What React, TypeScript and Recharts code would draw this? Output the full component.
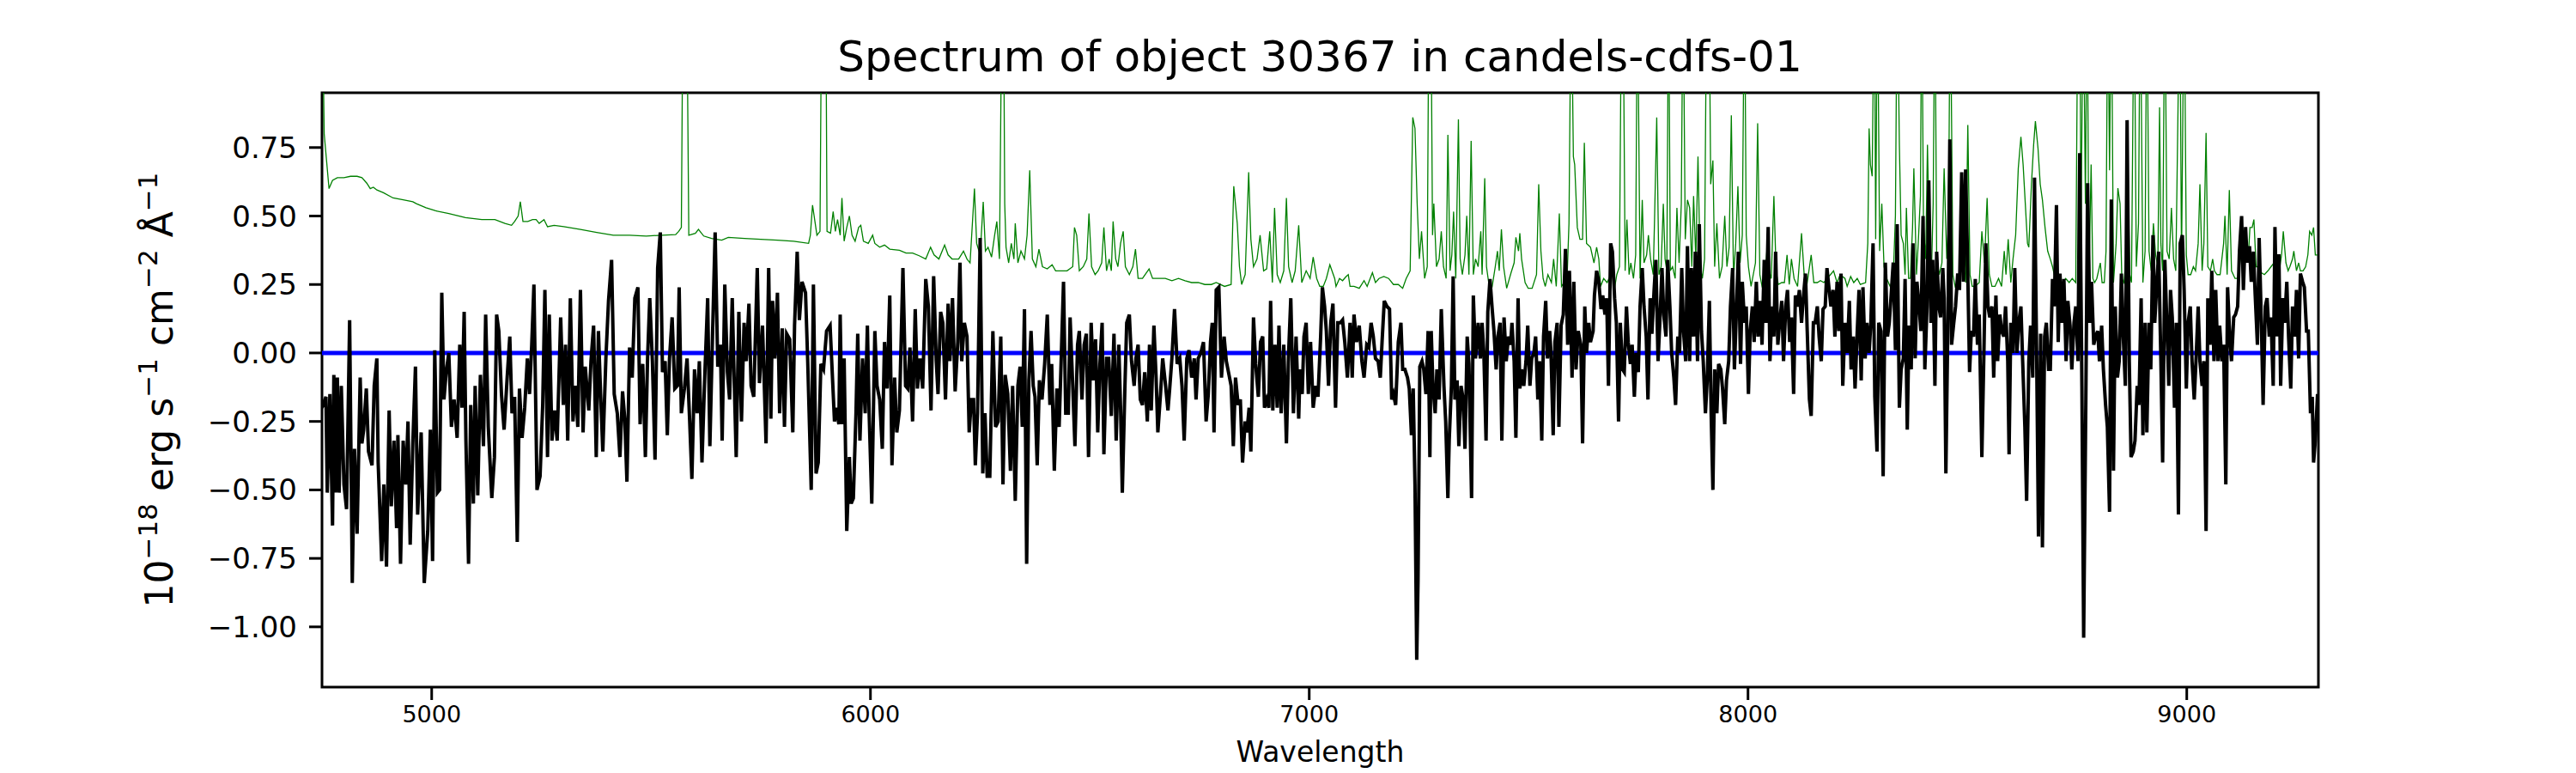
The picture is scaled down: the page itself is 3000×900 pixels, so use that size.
import { LineChart, Line, XAxis, YAxis, ReferenceArea } from "recharts";

// wavelength (Angstrom), flux in 1e-18 erg/s/cm2/A
const FLUX_BLUE_END: number[][] = [
  [4750,-0.20],[4759,-0.16],[4762,-0.51],[4768,-0.15],[4774,-0.63],[4777,-0.08],[4781,-0.51],[4785,-0.09],[4789,-0.51],[4794,-0.12],
  [4800,-0.48],[4806,-0.57],[4813,0.12],[4819,-0.84],[4824,-0.35],[4830,-0.66],[4837,-0.09],[4841,-0.33],[4845,-0.28],[4851,-0.13],
  [4856,-0.36],[4864,-0.41],[4869,-0.12],[4875,-0.02],[4878,-0.40],[4886,-0.76],[4891,-0.48],[4897,-0.78],[4903,-0.21],[4908,-0.56],
  [4914,-0.32],[4920,-0.64],[4923,-0.30],[4929,-0.77],[4935,-0.32],[4941,-0.48],[4946,-0.25],[4951,-0.70],[4957,-0.33],[4963,-0.05],
  [4968,-0.59],[4976,-0.29],[4983,-0.84],[4991,-0.65],[4997,-0.28],[5002,-0.76],[5007,0.01],[5013,-0.51],[5018,-0.50],[5023,0.22],
  [5028,-0.17],[5033,-0.07],[5039,0.0],[5045,-0.27],[5051,-0.17],[5058,-0.31],[5064,0.03],[5069,-0.20],[5074,0.15],[5078,-0.32],
  [5084,-0.77],[5089,-0.19],[5095,-0.55],[5099,-0.12],[5105,-0.52],[5111,-0.08],[5118,-0.34],[5123,0.14],[5129,-0.27],[5137,-0.53],
  [5143,-0.38],[5148,0.14],[5153,0.08],[5159,-0.15],[5165,-0.28],[5172,-0.09],[5178,0.06],[5183,-0.22],[5189,-0.16],[5195,-0.69],
  [5200,-0.13],[5206,-0.31],[5212,-0.20],[5218,-0.02],[5223,-0.15],[5228,0.03],[5233,0.25],[5240,-0.50],[5247,-0.45],[5253,-0.19],
  [5258,0.23],[5264,-0.38],[5268,0.14],[5274,-0.32],[5280,-0.21],[5286,-0.32],[5294,0.13],[5300,-0.19],[5305,0.03],[5310,-0.32],
  [5316,0.20],[5322,-0.25],[5328,-0.12],[5333,-0.27],[5339,0.23],[5345,-0.29],[5350,-0.05],[5358,-0.21],[5363,-0.03],[5369,0.10],
  [5375,-0.38],[5380,0.08],[5385,-0.15],[5390,-0.36],[5397,-0.02],[5403,0.19],[5410,0.34],[5416,-0.15],[5423,-0.22],[5429,-0.38],
  [5435,-0.14],[5440,-0.24],[5445,-0.47],[5451,0.02],[5457,-0.09],[5463,0.20],[5470,0.24],[5475,-0.26],[5481,-0.04],[5487,-0.38],
  [5492,-0.02],[5497,0.20],[5503,-0.03],[5509,-0.39],[5515,0.31],[5521,0.44],[5526,-0.07],[5532,-0.03],[5537,-0.30],[5542,-0.02],
  [5548,0.13],[5554,-0.13],[5560,-0.12],[5564,0.24],[5569,-0.22],[5576,-0.13],[5582,-0.02],[5588,-0.25],[5593,-0.46],[5599,-0.06],
  [5605,-0.22],[5610,-0.03],[5616,-0.40],[5622,-0.10],[5629,0.20],[5634,-0.34],[5640,0.06],[5646,0.44],[5652,-0.05],[5658,0.03],
  [5662,-0.32],[5668,0.25],[5674,-0.07],[5679,-0.17],[5685,0.20],[5689,-0.07],[5694,-0.38],[5700,0.15],[5706,-0.25],[5712,0.11],
  [5717,-0.03],[5723,0.18],[5728,-0.12],[5734,-0.16],[5742,0.31],[5747,-0.11],[5754,0.10],[5762,-0.33],[5768,0.31],[5773,-0.24],
  [5777,0.19],[5782,-0.02],[5788,0.22],[5793,-0.22],[5799,0.09],[5804,-0.27],[5809,0.07],[5816,0.05],[5823,-0.29],[5827,0.10],
  [5833,0.37],[5838,0.12],[5844,0.26],[5852,0.22],[5857,-0.03],[5865,-0.50],[5870,0.25],[5876,-0.44],[5881,-0.40],[5887,-0.04],
  [5893,-0.06],[5900,0.08],[5908,0.10],
];

const FLUX_GREEN_RED: number[][] = [
  [5918,-0.25],[5922,-0.20],[5928,-0.26],[5931,0.14],[5935,-0.26],[5940,-0.02],[5946,-0.65],[5952,-0.38],[5956,-0.55],[5961,-0.53],
  [5967,-0.22],[5971,0.07],[5976,-0.32],[5982,-0.02],[5988,-0.22],[5993,0.10],[5997,-0.22],[6003,-0.55],[6010,0.08],[6015,-0.12],
  [6021,-0.17],[6027,-0.35],[6032,0.04],[6038,-0.13],[6044,0.21],[6049,-0.41],[6055,-0.09],[6060,-0.29],[6066,-0.21],[6074,0.31],
  [6080,-0.12],[6085,-0.13],[6090,0.02],[6096,-0.25],[6102,0.16],[6107,-0.13],[6113,-0.02],[6119,-0.13],[6126,0.27],[6132,0.17],
  [6138,-0.21],[6144,0.28],[6150,-0.03],[6154,-0.15],[6160,0.15],[6165,0.11],[6171,-0.17],[6177,0.18],[6181,-0.03],[6187,0.20],
  [6193,-0.14],[6199,0.04],[6204,0.33],[6208,-0.03],[6214,0.11],[6220,0.06],[6225,-0.29],[6230,-0.17],[6235,-0.17],[6239,-0.41],
  [6244,-0.22],[6250,0.42],[6256,-0.44],[6261,-0.22],[6266,-0.45],[6272,-0.45],[6279,0.08],[6285,-0.27],[6291,-0.25],[6297,0.06],
  [6302,-0.48],[6307,-0.08],[6313,-0.15],[6319,-0.43],[6324,-0.12],[6330,-0.54],[6336,-0.12],[6341,-0.05],[6346,-0.27],[6351,0.16],
  [6356,-0.77],[6361,-0.10],[6366,0.08],[6371,-0.12],[6375,-0.16],[6380,-0.41],[6385,-0.10],[6391,-0.17],[6397,-0.04],[6403,0.14],
  [6409,-0.19],[6413,-0.04],[6419,-0.43],[6425,-0.13],[6430,-0.27],[6434,-0.06],[6440,0.26],[6445,-0.22],[6451,-0.22],[6455,0.13],
  [6461,-0.12],[6466,-0.34],[6472,0.03],[6476,0.08],[6482,-0.17],[6487,0.03],[6492,0.07],[6497,-0.38],[6503,0.11],[6508,-0.10],
  [6513,0.05],[6518,-0.29],[6523,-0.04],[6528,0.11],[6532,-0.37],[6538,-0.02],[6543,-0.02],[6549,-0.23],[6555,0.07],[6560,-0.32],
  [6566,0.03],[6570,-0.20],[6574,-0.51],[6580,-0.12],[6584,0.11],[6590,0.14],[6595,-0.03],[6601,-0.12],[6605,-0.02],[6610,0.03],
  [6615,-0.17],[6620,-0.19],[6625,-0.07],[6631,-0.25],[6636,0.03],[6640,-0.21],[6646,0.10],[6651,-0.09],[6655,-0.29],[6661,-0.15],
  [6666,-0.02],[6672,-0.11],[6678,-0.21],[6682,-0.13],[6687,-0.02],[6693,0.16],[6699,-0.04],[6705,-0.02],[6710,-0.12],[6715,-0.32],
  [6721,-0.02],[6726,0.01],[6732,-0.09],[6738,-0.02],[6742,-0.17],[6747,-0.02],[6753,0.00],[6759,0.04],[6765,-0.25],[6770,-0.15],
  [6775,0.04],[6779,0.11],[6783,-0.29],[6788,0.23],[6794,0.24],[6800,-0.09],[6806,0.06],[6811,-0.03],[6816,-0.07],[6822,-0.12],
  [6827,-0.34],[6832,-0.09],[6838,-0.19],[6843,-0.17],[6848,-0.40],[6854,-0.25],[6858,-0.29],[6863,-0.20],[6867,-0.36],[6873,0.13],
  [6878,-0.04],[6884,-0.16],[6889,0.04],[6894,0.06],[6898,-0.20],[6903,-0.17],[6908,-0.20],[6912,0.19],[6917,-0.21],[6922,0.03],
  [6927,-0.20],[6931,0.10],[6936,-0.22],[6942,0.03],[6948,-0.33],[6953,0.0],[6958,0.20],[6964,-0.22],[6970,0.06],[6976,-0.24],
  [6979,-0.06],[6984,-0.15],[6988,0.06],[6993,0.11],[6998,-0.15],[7003,0.04],[7009,-0.20],[7015,-0.12],[7020,-0.16],[7026,0.06],
  [7030,0.24],[7035,0.17],[7039,0.08],[7044,-0.12],[7049,0.11],[7054,0.18],[7060,-0.20],[7065,0.11],
];

const FLUX_NEAR_IR: number[][] = [
  [7071,0.11],[7076,0.12],[7081,0.04],[7087,-0.09],[7093,0.11],[7098,-0.09],[7102,0.14],[7108,0.04],[7114,0.10],[7120,-0.03],
  [7125,-0.09],[7131,0.03],[7136,0.02],[7141,0.11],[7146,0.06],[7151,-0.02],[7157,-0.03],[7162,-0.09],[7166,0.04],[7171,0.19],
  [7177,0.17],[7183,0.16],[7188,-0.17],[7192,-0.15],[7197,-0.19],[7203,0.04],[7209,0.11],[7213,-0.06],[7218,-0.06],[7224,-0.09],
  [7228,-0.13],[7233,-0.30],[7237,-0.13],[7241,-0.48],[7245,-1.12],[7248,-0.83],[7252,-0.05],[7257,-0.03],[7261,-0.06],[7266,-0.15],
  [7271,0.08],[7275,-0.38],[7278,0.08],[7282,-0.12],[7287,-0.22],[7291,-0.06],[7296,-0.17],[7301,0.16],[7307,-0.12],[7311,-0.25],
  [7316,-0.53],[7319,-0.32],[7324,-0.12],[7328,0.28],[7332,-0.17],[7337,-0.10],[7341,-0.34],[7346,-0.12],[7351,-0.17],[7355,-0.35],
  [7360,0.06],[7364,-0.04],[7370,-0.53],[7374,0.21],[7379,-0.02],[7385,0.11],[7390,-0.02],[7394,0.11],[7398,0.0],[7403,-0.32],
  [7407,0.15],[7412,0.27],[7417,0.16],[7421,0.08],[7426,-0.06],[7430,0.06],[7435,0.11],[7439,-0.32],[7444,0.13],[7449,-0.03],
  [7454,0.06],[7459,0.03],[7462,0.11],[7467,-0.03],[7471,-0.31],[7476,0.20],[7480,-0.13],[7484,-0.06],[7489,-0.12],[7494,-0.03],
  [7498,0.10],[7503,-0.12],[7507,-0.02],[7512,0.0],[7516,0.06],[7521,-0.17],[7525,-0.03],[7530,-0.32],[7534,0.06],[7539,0.19],
  [7543,-0.02],[7548,0.08],[7551,0.0],[7556,-0.30],[7560,0.04],[7565,0.11],[7569,-0.27],[7574,0.10],[7579,0.14],[7584,0.38],
  [7589,0.03],[7593,0.30],[7599,-0.09],[7603,0.26],[7608,-0.06],[7613,0.08],[7619,0.03],[7623,-0.33],[7628,0.17],[7632,0.0],
  [7637,0.11],[7641,0.04],[7647,0.08],[7650,0.21],[7655,0.30],[7660,0.26],[7665,0.16],[7669,0.21],[7674,0.14],[7678,0.20],
  [7682,-0.12],[7687,0.40],[7691,0.37],[7696,0.20],[7700,0.11],[7705,-0.25],[7709,0.11],[7714,-0.06],[7718,-0.07],[7723,0.17],
  [7727,0.04],[7732,-0.04],[7736,0.03],[7741,-0.16],[7745,0.0],[7750,-0.07],[7754,0.17],[7759,0.31],[7763,0.17],[7768,0.06],
  [7772,-0.17],[7777,0.20],[7781,0.07],[7786,0.23],[7790,0.34],[7795,-0.03],[7799,0.11],[7804,0.31],[7808,0.14],[7813,0.06],
  [7817,0.34],[7822,0.17],[7826,0.0],[7831,-0.09],[7835,-0.19],[7840,0.06],[7844,0.0],[7849,0.31],[7853,0.08],[7858,-0.03],
  [7862,0.39],[7867,-0.03],[7871,0.31],[7876,0.06],[7880,0.37],[7885,-0.03],[7889,0.47],[7894,0.08],[7898,-0.03],[7903,-0.22],
  [7907,-0.10],[7912,0.19],[7916,-0.22],[7920,-0.50],[7924,-0.06],[7929,-0.22],[7933,-0.04],[7938,-0.06],[7942,-0.13],[7947,-0.26],
  [7951,-0.10],[7956,-0.03],[7960,0.17],[7965,0.31],[7969,-0.06],[7974,0.17],[7978,0.37],[7983,-0.04],[7987,0.26],[7992,0.11],
  [7996,0.17],[8001,-0.15],[8005,0.08],[8010,0.17],[8014,0.04],[8019,0.26],[8023,0.06],[8028,0.19],[8032,0.03],[8037,0.34],
  [8041,0.11],[8046,0.46],[8050,-0.03],[8055,0.17],[8059,0.06],[8063,0.37],[8068,0.03],[8072,0.11],[8077,0.19],[8081,-0.03],
  [8086,0.17],[8090,0.23],[8095,0.04],[8099,0.13],[8104,-0.15],[8108,0.21],[8113,0.17],[8117,0.23],[8122,0.11],[8126,0.20],
  [8131,0.29],[8135,0.08],[8140,-0.17],[8144,-0.23],[8149,0.11],[8153,0.11],[8158,0.17],[8162,0.06],[8167,-0.03],[8171,0.16],
  [8176,0.17],[8180,0.31],[8185,0.23],[8189,0.17],[8194,0.23],[8198,0.06],[8203,0.26],[8207,0.08],[8212,0.29],[8216,-0.12],
  [8221,0.11],
];

const FLUX_RED_END: number[][] = [
  [8226,0.0],[8231,0.19],[8235,-0.06],[8240,0.06],[8244,-0.13],[8249,0.08],[8253,0.23],[8258,-0.10],[8262,0.24],[8267,-0.02],
  [8271,0.11],[8276,0.0],[8280,0.11],[8285,0.40],[8289,-0.16],[8294,-0.36],[8298,0.11],[8303,0.08],[8308,-0.45],[8313,0.33],
  [8318,0.06],[8322,0.11],[8327,0.23],[8331,0.33],[8336,0.01],[8340,0.47],[8345,-0.20],[8349,-0.06],[8354,-0.02],[8358,0.27],
  [8363,-0.28],[8367,0.10],[8372,-0.06],[8376,0.40],[8381,-0.02],[8385,0.26],[8390,0.17],[8394,0.08],[8399,0.50],[8403,-0.06],
  [8408,0.17],[8412,0.63],[8417,0.11],[8421,0.34],[8426,-0.12],[8430,0.37],[8435,0.17],[8439,0.13],[8444,0.31],[8447,0.20],
  [8451,-0.44],[8456,0.17],[8460,0.78],[8464,0.03],[8469,0.11],[8473,0.17],[8478,0.29],[8482,0.23],[8487,0.66],[8491,0.26],
  [8496,0.67],[8500,0.37],[8505,-0.07],[8509,0.08],[8514,0.06],[8518,0.27],[8523,0.03],[8527,0.14],[8533,-0.38],[8538,0.03],
  [8542,0.40],[8547,0.17],[8551,0.13],[8556,0.17],[8560,-0.09],[8565,0.21],[8569,-0.03],[8574,0.14],[8578,0.08],[8583,0.06],
  [8587,0.17],[8592,-0.03],[8595,-0.37],[8599,0.11],[8604,0.0],[8608,0.31],[8613,0.0],[8617,0.11],[8622,0.17],[8626,-0.03],
  [8631,-0.27],[8635,-0.54],[8640,-0.03],[8644,0.10],[8649,-0.09],[8653,0.64],[8658,-0.03],[8662,-0.67],[8667,0.07],[8671,-0.71],
  [8676,0.06],[8680,0.11],[8685,-0.06],[8689,-0.06],[8694,0.27],[8698,0.17],[8703,0.54],[8707,0.04],[8711,0.29],[8716,0.11],
  [8720,0.27],[8725,-0.03],[8729,0.19],[8734,0.10],[8738,-0.06],[8743,0.11],[8747,0.17],[8752,-0.03],[8756,0.73],[8761,-0.12],
  [8765,-1.04],[8770,-0.17],[8774,0.62],[8779,0.11],[8783,0.26],[8788,0.03],[8792,0.06],[8797,0.08],[8801,-0.03],[8806,0.10],
  [8810,-0.06],[8815,-0.19],[8819,-0.27],[8824,-0.58],[8828,0.56],[8833,-0.43],[8837,0.17],[8842,-0.09],[8846,-0.03],[8851,0.29],
  [8855,0.07],[8860,-0.12],[8864,0.85],[8869,-0.03],[8873,-0.38],[8878,-0.36],[8882,-0.32],[8887,-0.12],[8891,-0.19],[8896,0.20],
  [8900,-0.30],[8905,0.11],[8909,-0.29],[8914,0.11],[8918,-0.06],[8923,0.43],[8927,0.11],[8932,0.26],[8936,0.37],[8941,-0.03],
  [8945,-0.40],[8950,0.34],[8954,0.14],[8959,-0.12],[8963,0.23],[8967,0.13],[8972,-0.20],[8976,0.11],[8981,-0.59],[8985,0.40],
  [8990,0.43],[8994,0.23],[8999,-0.13],[9003,0.11],[9008,0.17],[9012,-0.03],[9017,-0.17],[9021,-0.03],[9026,0.17],[9030,-0.03],
  [9035,-0.12],[9039,-0.03],[9044,-0.65],[9048,0.20],[9053,0.03],[9057,0.30],[9062,-0.03],[9066,0.23],[9071,-0.03],[9075,0.10],
  [9080,-0.03],[9084,0.03],[9089,-0.48],[9093,0.24],[9098,0.06],[9102,-0.03],[9107,0.13],[9111,0.14],[9116,0.17],[9120,0.37],
  [9125,0.50],[9129,0.23],[9134,0.46],[9138,0.33],[9143,0.39],[9147,0.26],[9152,0.37],[9156,0.21],[9161,0.03],[9165,0.42],
  [9170,0.11],[9174,-0.19],[9179,0.17],[9183,0.20],[9188,0.06],[9192,0.13],[9197,-0.12],[9201,0.46],[9206,0.06],[9210,0.36],
  [9214,-0.12],[9219,0.20],[9223,0.11],[9228,0.26],[9232,0.06],[9237,-0.13],[9241,0.17],[9246,0.06],[9250,0.23],[9255,-0.02],
  [9259,0.29],[9264,0.26],[9268,0.24],[9273,0.08],[9277,0.08],[9282,-0.22],[9286,-0.16],[9289,-0.40],[9293,-0.32],[9298,-0.15],
];

// error / sky spectrum; 1.4 marks sky lines running off the top of the axes
const ERR_BLUE_END: number[][] = [
  [4750,1.4],[4755,0.80],[4766,0.60],[4774,0.63],[4785,0.64],[4800,0.64],[4815,0.645],[4830,0.645],[4841,0.64],[4852,0.62],
  [4860,0.60],[4867,0.605],[4875,0.595],[4890,0.585],[4912,0.566],[4935,0.559],[4957,0.552],[4965,0.545],[4987,0.53],[5009,0.519],
  [5039,0.509],[5077,0.494],[5114,0.487],[5144,0.487],[5167,0.473],[5182,0.466],[5189,0.48],[5197,0.50],[5202,0.552],[5208,0.48],
  [5219,0.48],[5230,0.487],[5238,0.487],[5245,0.473],[5256,0.487],[5264,0.461],[5279,0.466],[5301,0.461],[5339,0.451],[5376,0.44],
  [5414,0.43],[5451,0.43],[5489,0.427],[5526,0.43],[5556,0.432],[5563,0.444],[5569,0.458],[5573,1.4],[5581,1.4],[5586,0.43],
  [5601,0.437],[5608,0.451],[5620,0.427],[5638,0.418],[5661,0.412],[5676,0.422],[5713,0.418],[5750,0.415],[5788,0.412],[5825,0.408],
  [5859,0.40],[5863,0.43],[5868,0.54],[5878,0.43],[5885,0.444],[5889,1.4],[5896,1.4],
];

const ERR_GREEN_RED: number[][] = [
  [5898,1.4],[5901,0.444],[5909,0.437],[5915,0.516],[5920,0.444],[5925,0.487],[5931,0.43],[5935,0.566],[5940,0.408],[5946,0.458],
  [5952,0.50],[5958,0.43],[5965,0.408],[5973,0.458],[5978,0.466],[5984,0.408],[5995,0.40],[6005,0.43],[6010,0.40],[6021,0.386],
  [6032,0.394],[6044,0.379],[6066,0.375],[6081,0.365],[6096,0.365],[6111,0.355],[6126,0.343],[6137,0.386],[6145,0.358],[6156,0.343],
  [6169,0.394],[6177,0.358],[6186,0.343],[6201,0.343],[6212,0.372],[6220,0.343],[6227,0.329],[6237,0.60],[6242,0.40],[6250,0.358],
  [6257,0.552],[6262,0.372],[6268,0.386],[6276,0.35],[6283,0.43],[6288,0.48],[6294,0.343],[6300,1.4],[6303,1.4],[6306,0.545],
  [6309,0.386],[6315,0.329],[6321,0.40],[6327,0.343],[6330,0.473],[6336,0.329],[6343,0.372],[6351,0.343],[6357,0.43],[6363,0.667],
  [6369,0.343],[6377,0.315],[6384,0.379],[6392,0.315],[6403,0.307],[6414,0.322],[6422,0.30],[6448,0.30],[6461,0.315],[6465,0.458],
  [6470,0.43],[6476,0.30],[6485,0.315],[6493,0.343],[6498,0.509],[6504,0.315],[6512,0.286],[6519,0.30],[6527,0.329],[6532,0.458],
  [6538,0.30],[6544,0.343],[6549,0.30],[6553,0.48],[6559,0.343],[6564,0.315],[6570,0.40],[6576,0.444],[6581,0.315],[6590,0.286],
  [6598,0.315],[6604,0.379],[6610,0.272],[6620,0.272],[6635,0.307],[6643,0.272],[6658,0.272],[6672,0.272],[6687,0.264],[6702,0.272],
  [6717,0.264],[6732,0.257],[6747,0.257],[6762,0.25],[6777,0.25],[6788,0.257],[6807,0.243],[6822,0.25],[6828,0.609],[6836,0.473],
  [6841,0.315],[6846,0.25],[6854,0.286],[6862,0.66],[6867,0.415],[6873,0.315],[6881,0.343],[6888,0.43],[6896,0.30],[6903,0.307],
  [6910,0.444],[6916,0.257],[6921,0.53],[6927,0.286],[6934,0.257],[6942,0.30],[6948,0.566],[6953,0.315],[6961,0.257],[6968,0.30],
  [6976,0.466],[6983,0.257],[6993,0.30],[7002,0.272],[7009,0.35],[7017,0.272],[7024,0.243],[7032,0.243],[7039,0.272],[7047,0.322],
  [7058,0.272],
];

const ERR_NEAR_IR: number[][] = [
  [7061,0.243],[7069,0.272],[7076,0.264],[7084,0.279],[7089,0.286],[7093,0.243],[7102,0.243],[7114,0.236],[7125,0.264],[7132,0.243],
  [7144,0.293],[7151,0.257],[7159,0.272],[7170,0.279],[7181,0.272],[7192,0.25],[7203,0.25],[7213,0.236],[7221,0.272],[7230,0.30],
  [7236,0.86],[7241,0.82],[7246,0.545],[7251,0.343],[7256,0.444],[7263,0.272],[7269,0.315],[7273,1.4],[7277,1.4],[7281,0.43],
  [7284,0.545],[7290,0.315],[7296,0.343],[7301,0.444],[7306,0.315],[7312,0.272],[7316,0.796],[7321,0.30],[7325,0.358],[7329,0.516],
  [7334,0.272],[7340,0.853],[7344,0.343],[7349,0.286],[7355,0.358],[7359,0.501],[7364,0.286],[7369,0.774],[7374,0.286],[7379,0.343],
  [7385,0.315],[7391,0.444],[7394,0.286],[7400,0.638],[7404,0.315],[7409,0.257],[7417,0.243],[7424,0.315],[7429,0.372],[7433,0.30],
  [7438,0.451],[7443,0.315],[7450,0.236],[7460,0.293],[7467,0.329],[7471,0.422],[7477,0.372],[7480,0.437],[7484,0.343],[7492,0.257],
  [7499,0.236],[7508,0.236],[7518,0.286],[7523,0.616],[7528,0.372],[7533,0.272],[7538,0.243],[7544,0.286],[7552,0.257],[7557,0.343],
  [7563,0.243],[7570,0.509],[7575,0.243],[7581,0.257],[7587,0.243],[7592,0.473],[7597,1.4],[7602,0.717],[7605,0.688],[7611,0.458],
  [7617,0.415],[7623,0.415],[7627,0.767],[7632,0.40],[7641,0.386],[7649,0.329],[7655,0.386],[7660,0.343],[7664,0.243],[7671,0.272],
  [7679,0.257],[7685,0.279],[7690,0.329],[7695,0.228],[7701,0.286],[7707,0.315],[7712,1.4],[7715,1.4],[7720,0.30],[7724,0.487],
  [7729,0.286],[7733,0.329],[7739,0.272],[7744,0.358],[7748,1.4],[7754,0.272],[7759,0.559],[7763,0.329],[7769,0.358],[7773,0.43],
  [7778,0.343],[7784,0.286],[7787,0.487],[7792,0.86],[7797,0.286],[7802,0.315],[7807,0.545],[7811,0.343],[7815,0.30],[7819,1.4],
  [7823,0.30],[7828,0.315],[7834,0.272],[7838,0.53],[7843,0.329],[7848,0.545],[7852,1.4],[7857,0.415],[7862,0.559],[7867,0.53],
  [7872,0.315],[7876,0.573],[7881,0.343],[7886,0.717],[7891,0.315],[7896,0.272],[7901,0.343],[7906,1.4],[7911,1.4],[7915,0.616],
  [7920,0.703],[7924,0.315],[7929,0.473],[7935,0.272],[7941,0.315],[7947,0.501],[7952,0.315],[7957,0.386],[7962,0.868],[7967,0.272],
  [7972,0.40],[7977,0.609],[7982,0.329],[7987,0.43],[7992,1.4],[7996,0.43],[8001,0.315],[8007,0.243],[8012,0.286],[8017,0.329],
  [8022,0.839],[8027,0.286],[8032,0.243],[8038,0.257],[8043,0.372],[8048,0.30],[8053,0.272],[8059,0.573],[8064,0.30],[8069,0.25],
  [8077,0.257],[8083,0.257],[8089,0.358],[8094,0.25],[8099,0.343],[8105,0.272],[8113,0.243],[8122,0.437],[8128,0.286],[8135,0.257],
  [8144,0.358],[8150,0.257],[8158,0.257],[8165,0.264],[8173,0.257],[8180,0.272],[8188,0.286],[8195,0.30],[8203,0.257],[8210,0.286],
  [8221,0.272],
];

const ERR_RED_END: number[][] = [
  [8226,0.243],[8234,0.279],[8241,0.257],[8249,0.272],[8256,0.25],[8268,0.257],[8273,0.40],[8276,0.82],[8279,0.688],[8283,0.645],
  [8288,1.4],[8291,0.415],[8295,1.4],[8300,0.372],[8305,0.545],[8310,0.315],[8316,0.272],[8324,0.243],[8331,0.272],[8336,0.501],
  [8340,1.4],[8345,0.76],[8349,0.43],[8354,0.40],[8358,0.286],[8361,0.53],[8366,0.272],[8370,0.272],[8375,0.458],[8378,0.674],
  [8384,0.286],[8388,0.40],[8393,0.573],[8396,1.4],[8400,0.458],[8405,0.343],[8409,0.76],[8414,0.358],[8418,0.286],[8422,0.545],
  [8426,1.4],[8430,0.343],[8436,0.286],[8442,0.329],[8447,0.674],[8453,0.343],[8457,0.473],[8461,1.4],[8467,0.286],[8472,0.243],
  [8477,0.257],[8485,0.30],[8492,0.315],[8496,0.257],[8501,0.832],[8506,0.286],[8511,0.243],[8518,0.243],[8527,0.257],[8533,0.444],
  [8539,0.329],[8545,0.566],[8550,0.286],[8556,0.243],[8563,0.243],[8571,0.272],[8578,0.243],[8584,0.372],[8588,0.286],[8593,0.415],
  [8599,0.257],[8604,0.343],[8610,0.43],[8616,0.674],[8622,0.789],[8627,0.688],[8632,0.545],[8637,0.40],[8640,0.386],[8646,0.616],
  [8651,0.76],[8655,0.846],[8661,0.746],[8666,0.616],[8671,0.559],[8677,0.458],[8683,0.372],[8689,0.343],[8694,0.315],[8702,0.257],
  [8709,0.243],[8717,0.257],[8724,0.272],[8732,0.257],[8739,0.272],[8747,0.257],[8752,1.4],[8756,1.4],[8759,0.43],[8764,1.4],
  [8769,0.545],[8773,1.4],[8777,0.257],[8782,0.688],[8786,0.272],[8790,0.257],[8795,0.272],[8803,0.329],[8807,0.257],[8812,0.257],
  [8816,0.372],[8820,1.4],[8824,0.667],[8828,1.4],[8833,0.257],[8839,0.40],[8843,0.602],[8848,0.545],[8852,0.272],[8857,0.257],
  [8861,0.343],[8866,0.66],[8870,0.286],[8874,0.257],[8880,1.4],[8885,0.315],[8890,0.473],[8894,1.4],[8900,0.257],[8905,0.372],
  [8909,1.4],[8914,0.372],[8919,0.30],[8924,0.473],[8929,0.358],[8934,0.315],[8938,0.897],[8941,0.40],[8945,0.30],[8950,1.4],
  [8955,0.372],[8960,0.343],[8965,0.53],[8970,0.343],[8975,0.30],[8980,0.889],[8984,1.4],[8988,0.329],[8994,1.4],[8999,0.358],
  [9003,0.286],[9009,0.286],[9015,0.315],[9020,0.30],[9026,0.40],[9030,0.616],[9035,0.30],[9039,0.40],[9044,0.803],[9048,0.315],
  [9054,0.30],[9059,0.343],[9063,0.30],[9069,0.286],[9076,0.286],[9084,0.40],[9087,0.501],[9092,0.286],[9097,0.595],[9102,0.30],
  [9110,0.272],[9117,0.272],[9125,0.386],[9131,0.272],[9135,0.43],[9140,0.343],[9144,0.458],[9149,0.458],[9153,0.487],[9158,0.315],
  [9164,0.315],[9170,0.293],[9177,0.286],[9185,0.30],[9192,0.315],[9199,0.329],[9207,0.30],[9211,0.30],[9216,0.358],[9220,0.444],
  [9226,0.329],[9231,0.30],[9235,0.315],[9241,0.343],[9244,0.372],[9250,0.30],[9255,0.329],[9259,0.30],[9265,0.30],[9271,0.315],
  [9276,0.358],[9280,0.444],[9285,0.43],[9289,0.458],[9293,0.358],[9298,0.358],
];

const ZERO_LEVEL: number[][] = [[4750, 0], [9300, 0]];

const X_TICKS = [5000, 6000, 7000, 8000, 9000];
const Y_TICKS = [-1, -0.75, -0.5, -0.25, 0, 0.25, 0.5, 0.75];
const X_RANGE = [4750, 9300];
const Y_RANGE = [-1.22, 0.95];

const FONT = "DejaVu Sans";

const toPoints = (pairs: number[][]) => pairs.map(([w, f]) => ({ w, f }));

const fluxData = toPoints([...FLUX_BLUE_END, ...FLUX_GREEN_RED, ...FLUX_NEAR_IR, ...FLUX_RED_END]);
const errData = toPoints([...ERR_BLUE_END, ...ERR_GREEN_RED, ...ERR_NEAR_IR, ...ERR_RED_END]);
const zeroData = toPoints(ZERO_LEVEL);

const fmtY = (v: number) => v.toFixed(2).replace("-", "\u2212");

function YLabel(props: any) {
  const vb = props.viewBox || { x: 0, y: 108, width: 375, height: 692 };
  const cx = 201;
  const cy = vb.y + vb.height / 2;
  const sup = 31;
  const up = 18;
  return (
    <text
      x={cx}
      y={cy}
      transform={`rotate(-90, ${cx}, ${cy})`}
      textAnchor="middle"
      fontFamily={FONT}
      fontSize={44}
      fill="#000"
    >
      10
      <tspan fontSize={sup} dy={-up}>{"\u221218"}</tspan>
      <tspan dy={up}>{" erg s"}</tspan>
      <tspan fontSize={sup} dy={-up}>{"\u22121"}</tspan>
      <tspan dy={up}>{" cm"}</tspan>
      <tspan fontSize={sup} dy={-up}>{"\u22122"}</tspan>
      <tspan dy={up}>{" \u00c5"}</tspan>
      <tspan fontSize={sup} dy={-up}>{"\u22121"}</tspan>
    </text>
  );
}

function XLabel(props: any) {
  const vb = props.viewBox || { x: 375, y: 800, width: 2325, height: 60 };
  return (
    <text
      x={vb.x + vb.width / 2}
      y={887}
      textAnchor="middle"
      fontFamily={FONT}
      fontSize={33}
      fill="#000"
    >
      Wavelength
    </text>
  );
}

export default function App() {
  return (
    <div
      style={{
        position: "absolute",
        left: 0,
        top: 0,
        width: 3000,
        height: 900,
        background: "#fff",
        fontFamily: FONT,
      }}
    >
      <div
        style={{
          position: "absolute",
          left: 0,
          top: 41,
          width: 3074,
          textAlign: "center",
          fontSize: 50,
          lineHeight: "50px",
          color: "#000",
        }}
      >
        Spectrum of object 30367 in candels-cdfs-01
      </div>
      <LineChart
        width={3000}
        height={900}
        margin={{ top: 108, right: 300, bottom: 40, left: 0 }}
        style={{ position: "absolute", left: 0, top: 0 }}
      >
        <XAxis
          type="number"
          dataKey="w"
          domain={X_RANGE}
          allowDataOverflow
          ticks={X_TICKS}
          height={60}
          axisLine={false}
          tickLine={{ stroke: "#000", strokeWidth: 3 }}
          tickSize={15}
          tickMargin={7}
          tick={{ fill: "#000", fontSize: 27, fontFamily: FONT }}
          label={<XLabel />}
        />
        <YAxis
          type="number"
          dataKey="f"
          domain={Y_RANGE}
          allowDataOverflow
          ticks={Y_TICKS}
          width={375}
          axisLine={false}
          tickLine={{ stroke: "#000", strokeWidth: 3 }}
          tickSize={15}
          tickMargin={14}
          tickFormatter={fmtY}
          tick={{ fill: "#000", fontSize: 34, fontFamily: FONT }}
          label={<YLabel />}
        />
        <Line
          data={errData}
          dataKey="f"
          type="linear"
          stroke="#008000"
          strokeWidth={1.3}
          dot={false}
          isAnimationActive={false}
        />
        <Line
          data={zeroData}
          dataKey="f"
          type="linear"
          stroke="#0000ff"
          strokeWidth={5}
          dot={false}
          isAnimationActive={false}
        />
        <Line
          data={fluxData}
          dataKey="f"
          type="linear"
          stroke="#000"
          strokeWidth={4}
          strokeLinejoin="miter"
          dot={false}
          isAnimationActive={false}
        />
        <ReferenceArea
          x1={X_RANGE[0]}
          x2={X_RANGE[1]}
          y1={Y_RANGE[0]}
          y2={Y_RANGE[1]}
          fill="none"
          stroke="#000"
          strokeWidth={3}
          fillOpacity={0}
        />
      </LineChart>
    </div>
  );
}
